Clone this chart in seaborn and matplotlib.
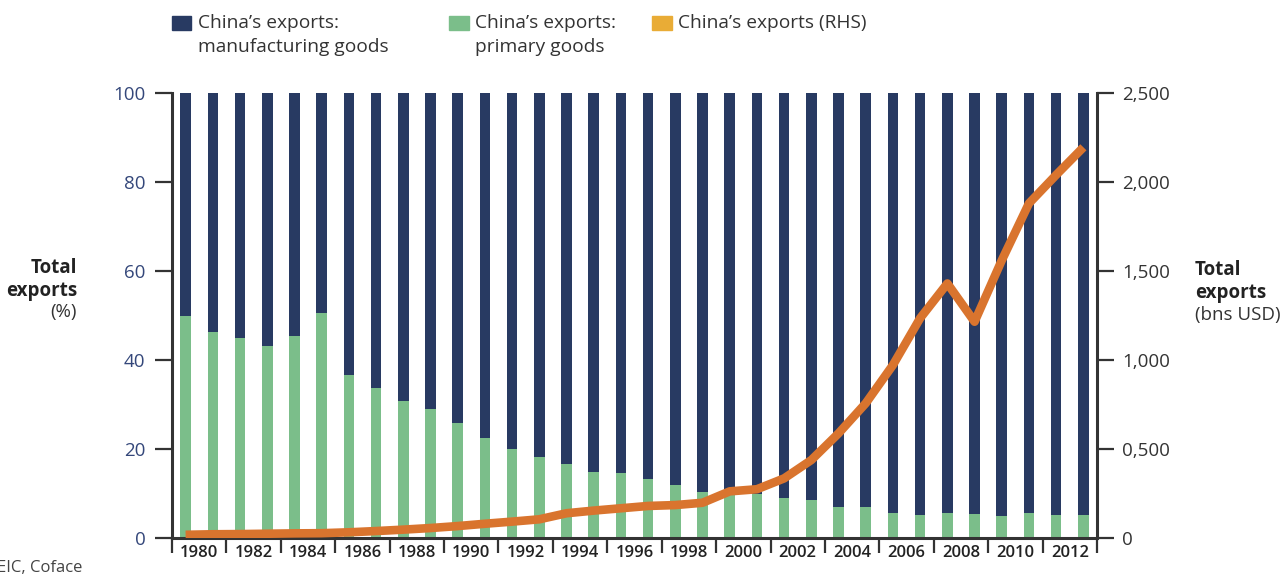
import numpy as np
import pandas as pd
import matplotlib
matplotlib.use("Agg")
import matplotlib.pyplot as plt
import seaborn as sns
from matplotlib.patches import Rectangle

years = list(range(1980, 2014))
primary_share = [50.0, 46.4, 44.9, 43.2, 45.5, 50.6, 36.7, 33.6, 30.8, 29.1,
                 25.8, 22.5, 20.1, 18.1, 16.7, 14.9, 14.5, 13.2, 11.8, 10.4,
                 10.2, 9.9, 9.1, 8.5, 7.0, 7.0, 5.6, 5.2, 5.6, 5.5,
                 4.9, 5.6, 5.2, 5.1]
manufacturing_share = [100 - p for p in primary_share]
total_exports_bn = [18, 21, 22, 24, 26, 27, 32, 39, 47, 56,
                    67, 80, 92, 105, 139, 154, 167, 180, 185, 198,
                    262, 274, 335, 438, 588, 757, 972, 1235, 1430, 1215,
                    1560, 1880, 2040, 2195]
tick_years = [str(y) for y in range(1980, 2013, 2)]
left_ticks = [0, 20, 40, 60, 80, 100]
right_ticks = [0, 500, 1000, 1500, 2000, 2500]
right_tick_labels = ["0", "0,500", "1,000", "1,500", "2,000", "2,500"]

NAVY = "#283A62"
GREEN = "#7BBE8A"
ORANGE = "#D9742E"
RHS_LEG = "#E9AC36"
TXT = "#333333"
LEFT_TXT = "#34477A"

sns.set_theme(style="white")
plt.rcParams["font.family"] = ["Open Sans", "DejaVu Sans"]

df = pd.DataFrame({
    "year": [str(y) for y in years],
    "primary": primary_share,
    "manufacturing": manufacturing_share,
})
df["total"] = df["primary"] + df["manufacturing"]

fig = plt.figure(figsize=(12.87, 5.75), dpi=100)
ax = fig.add_axes([172 / 1287, 1 - 538 / 575, (1097 - 172) / 1287, (538 - 93) / 575])

sns.barplot(data=df, x="year", y="total", color=NAVY, width=0.39, ax=ax,
            saturation=1, linewidth=0)
sns.barplot(data=df, x="year", y="primary", color=GREEN, width=0.39, ax=ax,
            saturation=1, linewidth=0)

ax.set_xlim(-0.5, len(years) - 0.5)
ax.set_ylim(0, 100)
ax.set_xlabel("")
ax.set_ylabel("")

# x ticks at boundaries of year pairs, labels centred between them
ax.set_xticks(np.arange(-0.5, len(years), 2))
ax.set_xticklabels([])
ax.set_xticks(np.arange(0.5, len(years), 2), minor=True)
ax.set_xticklabels(tick_years, minor=True, fontsize=12, color="#222222",
                   fontweight="semibold")
ax.tick_params(axis="x", which="major", length=11, width=1.6, color=TXT,
               direction="out", bottom=True)
ax.tick_params(axis="x", which="minor", length=0, pad=5, bottom=True)

ax.set_yticks(left_ticks)
ax.set_yticklabels([str(t) for t in left_ticks], fontsize=13.5, color=LEFT_TXT)
ax.tick_params(axis="y", length=12, width=1.6, color=TXT, pad=7, left=True)

for s in ["top", "right"]:
    ax.spines[s].set_visible(False)
for s in ["left", "bottom"]:
    ax.spines[s].set_color(TXT)
    ax.spines[s].set_linewidth(2.2)

ax2 = ax.twinx()
sns.lineplot(x=np.arange(len(years)), y=total_exports_bn, ax=ax2, color=ORANGE,
             linewidth=6.2, solid_capstyle="butt", solid_joinstyle="round")
ax2.set_ylim(0, 2500)
ax2.set_xlim(-0.5, len(years) - 0.5)
ax2.set_yticks(right_ticks)
ax2.set_yticklabels(right_tick_labels, fontsize=13.5, color=TXT)
ax2.tick_params(axis="y", length=12, width=1.6, color=TXT, pad=6, right=True)
for s in ["top", "left", "bottom"]:
    ax2.spines[s].set_visible(False)
ax2.spines["right"].set_color(TXT)
ax2.spines["right"].set_linewidth(2.2)
ax2.set_ylabel("")

# axis titles
fig.text(77 / 1287, 1 - 268 / 575, "Total", ha="right", va="center",
         fontsize=13.5, fontweight="bold", color="#222222")
fig.text(77 / 1287, 1 - 291 / 575, "exports", ha="right", va="center",
         fontsize=13.5, fontweight="bold", color="#222222")
fig.text(77 / 1287, 1 - 312 / 575, "(%)", ha="right", va="center",
         fontsize=13.5, color=TXT)
fig.text(1195 / 1287, 1 - 270 / 575, "Total", ha="left", va="center",
         fontsize=13.5, fontweight="bold", color="#222222")
fig.text(1195 / 1287, 1 - 293 / 575, "exports", ha="left", va="center",
         fontsize=13.5, fontweight="bold", color="#222222")
fig.text(1195 / 1287, 1 - 315 / 575, "(bns USD)", ha="left", va="center",
         fontsize=13.5, color=TXT)

# legend (manual)
legend_items = [
    (172, 198, NAVY, ["China\u2019s exports:", "manufacturing goods"]),
    (449, 475, GREEN, ["China\u2019s exports:", "primary goods"]),
    (652, 678, RHS_LEG, ["China\u2019s exports (RHS)"]),
]
for x0, xt, col, lines in legend_items:
    fig.patches.append(Rectangle((x0 / 1287, 1 - 29.5 / 575), 19.5 / 1287, 13 / 575,
                                 transform=fig.transFigure, color=col))
    for i, line in enumerate(lines):
        fig.text(xt / 1287, 1 - (23 + 24 * i) / 575, line, ha="left", va="center",
                 fontsize=13.8, color=TXT)

fig.text(-3 / 1287, 1 - 568 / 575, "EIC, Coface", ha="left", va="center",
         fontsize=12, color="#444444")

fig.savefig("out.png", dpi=100)
